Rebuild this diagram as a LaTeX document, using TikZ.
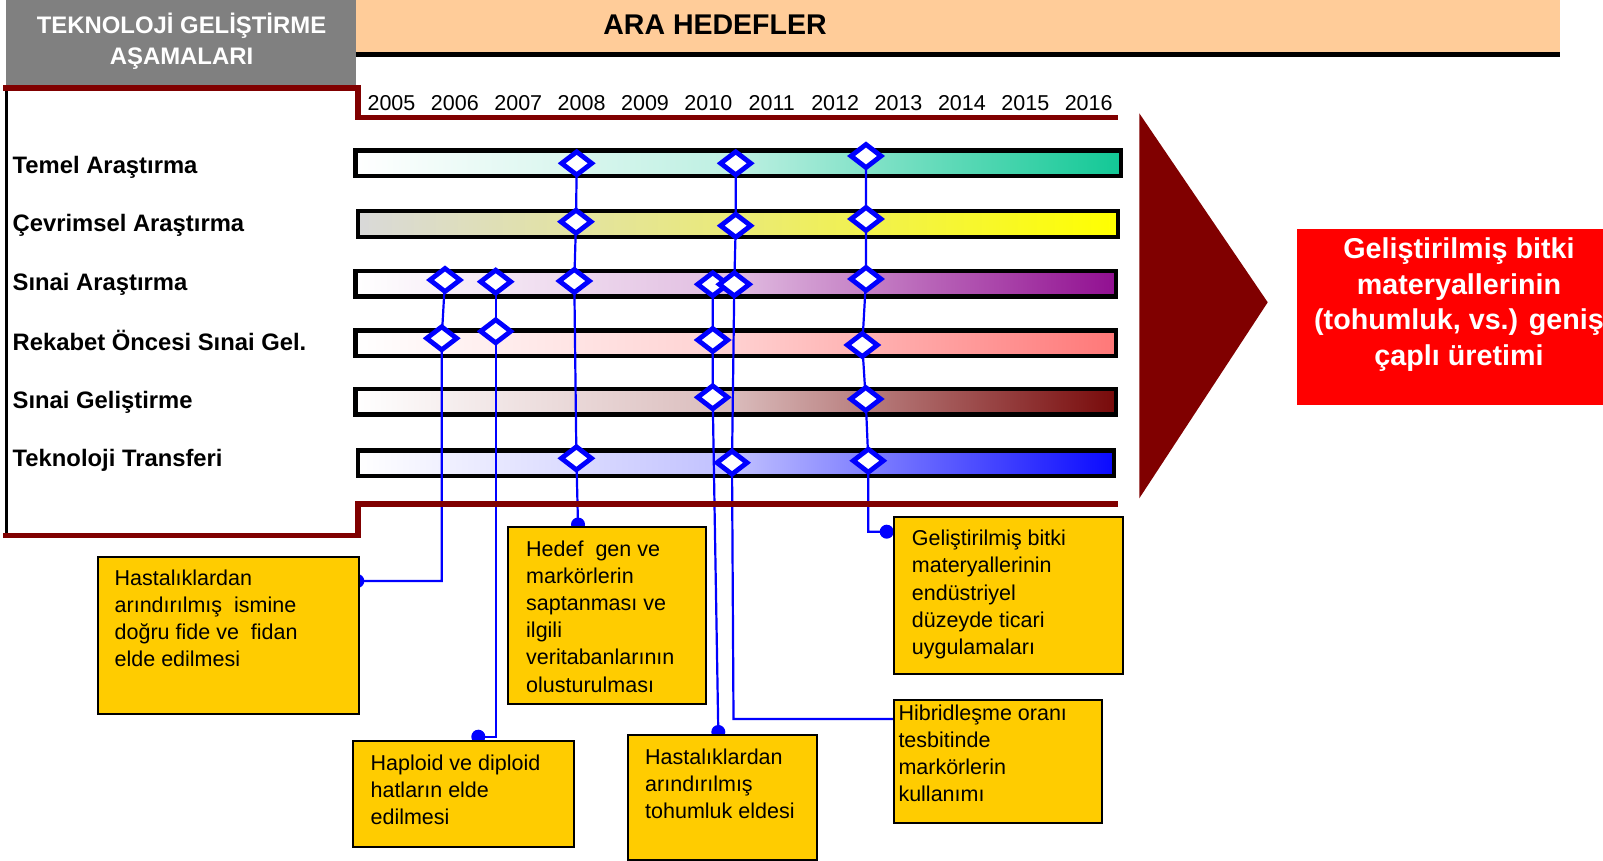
\documentclass[tikz,border=0pt]{standalone}
\usepackage{fontspec}
\setmainfont{Liberation Sans}
\usetikzlibrary{shapes.geometric}

\definecolor{hdrgray}{HTML}{808080}
\definecolor{hdrorange}{HTML}{FFCC99}
\definecolor{maroon}{HTML}{800000}
\definecolor{noteyellow}{HTML}{FFCC00}
\definecolor{msblue}{HTML}{0000FF}
\definecolor{goalred}{HTML}{FF0000}
\definecolor{cTeal}{RGB}{18,200,150}
\definecolor{cYellow}{RGB}{255,255,0}
\definecolor{cGrayL}{RGB}{217,217,217}
\definecolor{cPurple}{RGB}{145,15,145}
\definecolor{cSalmon}{RGB}{255,120,120}
\definecolor{cBrown}{RGB}{120,10,10}
\definecolor{cBlue}{RGB}{10,10,255}

\pgfdeclarelayer{bars}
\pgfdeclarelayer{links}
\pgfsetlayers{bars,links,main}

\begin{document}
\begin{tikzpicture}[x=1pt,y=-1pt,
  phasebar/.style={draw=black,line width=4.5pt,minimum height=25.5pt,inner sep=0pt,left color=white},
  milestone/.style={diamond,draw=msblue,fill=white,line width=4.8pt,minimum width=32pt,minimum height=25pt,inner sep=0pt},
  link/.style={draw=msblue,line width=2.2pt},
  joint/.style={circle,fill=msblue,minimum size=14pt,inner sep=0pt},
  notebox/.style={draw=black,line width=2pt,fill=noteyellow,inner sep=0pt,anchor=north west},
  notetext/.style={anchor=north west,inner sep=0pt,align=left,font=\fontsize{21.5}{27.2}\selectfont,execute at begin node=\rule{0pt}{17pt}},
  phase/.style={anchor=base west,inner sep=0pt,font=\bfseries\fontsize{23.8}{28}\selectfont},
  year/.style={anchor=base,inner sep=0pt,font=\fontsize{21.5}{25}\selectfont},
]
\useasboundingbox (0,0) rectangle (1603,861);
\clip (0,0) rectangle (1603,861);

% header bands
\fill[hdrgray] (6.3,0) rectangle (355.6,85);
\fill[hdrorange] (355.6,0) rectangle (1560,52);
\draw[line width=5.5pt] (355.6,54.5) -- (1560,54.5);
\node[anchor=north,inner sep=0pt,align=center,text=white,
      font=\bfseries\fontsize{23.9}{30.7}\selectfont,
      execute at begin node=\rule{0pt}{23pt}] (phasehdr) at (181.5,13.1)
  {TEKNOLOJİ GELİŞTİRME\\AŞAMALARI};
\node[anchor=base,inner sep=0pt,font=\bfseries\fontsize{28.5}{34}\selectfont] (goalhdr) at (715,34.7) {ARA HEDEFLER};

% frame of the phase panel
\draw[line width=3.5pt] (6.5,88) -- (6.5,535.5);
\draw[maroon,line width=5.7pt,line join=miter] (3,88) -- (358.3,88) -- (358.3,117.5) -- (1117.5,117.5);
\draw[maroon,line width=5.7pt,line join=miter] (3,535.5) -- (358.3,535.5) -- (358.3,504) -- (1117.5,504);

% years
\foreach \yr [count=\i from 0] in {2005,2006,...,2016}
  \node[year] (y\yr) at (391.5+63.38*\i,111) {\yr};

% phase names
\node[phase] (lab1) at (12.5,173.5) {Temel Araştırma};
\node[phase] (lab2) at (12.5,231.8) {Çevrimsel Araştırma};
\node[phase] (lab3) at (12.5,290.2) {Sınai Araştırma};
\node[phase] (lab4) at (12.5,350.2) {Rekabet Öncesi Sınai Gel.};
\node[phase] (lab5) at (12.5,408.5) {Sınai Geliştirme};
\node[phase] (lab6) at (12.5,466.8) {Teknoloji Transferi};

% gradient bars
\begin{pgfonlayer}{bars}
\node[phasebar,minimum width=765.5pt,right color=cTeal,middle color=cTeal!28!white] (bar1) at (738,163.5) {};
\node[phasebar,minimum width=760pt,left color=cGrayL,right color=cYellow,middle color=cGrayL!55!cYellow] (bar2) at (737.75,224) {};
\node[phasebar,minimum width=760.5pt,right color=cPurple,middle color=cPurple!28!white] (bar3) at (735.5,283.5) {};
\node[phasebar,minimum width=760.5pt,right color=cSalmon,middle color=cSalmon!35!white] (bar4) at (735.5,343) {};
\node[phasebar,minimum width=760.5pt,right color=cBrown,middle color=cBrown!28!white] (bar5) at (735.5,401.5) {};
\node[phasebar,minimum width=756pt,right color=cBlue,middle color=cBlue!26!white] (bar6) at (735.75,463) {};
\end{pgfonlayer}

% milestones
\node[milestone] (mA3) at (445,280) {};
\node[milestone] (mA4) at (441.7,338.3) {};
\node[milestone] (mB3) at (495.7,281.7) {};
\node[milestone] (mB4) at (495.7,331.3) {};
\node[milestone] (mC1) at (576.7,163.3) {};
\node[milestone] (mC2) at (576,221.7) {};
\node[milestone] (mC3) at (574.3,281) {};
\node[milestone] (mC6) at (576.4,458.3) {};
\node[milestone] (mD3) at (712.7,284.3) {};
\node[milestone] (mD4) at (712.7,340) {};
\node[milestone] (mD5) at (712.7,397.3) {};
\node[milestone] (mE1) at (735.7,163.3) {};
\node[milestone] (mE2) at (735.7,225.7) {};
\node[milestone] (mE3) at (734.3,284.3) {};
\node[milestone] (mE6) at (732,462.7) {};
\node[milestone] (mF1) at (866,156) {};
\node[milestone] (mF2) at (866,219) {};
\node[milestone] (mF3) at (866,279) {};
\node[milestone] (mF4) at (862.3,345) {};
\node[milestone] (mF5) at (865.7,399) {};
\node[milestone] (mF6) at (868.3,460.7) {};

% note boxes
\node[notebox,minimum width=261pt,minimum height=156.7pt] (box1) at (96.5,556) {};
\node[notebox,minimum width=198pt,minimum height=176.5pt] (box2) at (507,526) {};
\node[notebox,minimum width=228.5pt,minimum height=157pt] (box3) at (893,516) {};
\node[notebox,minimum width=221pt,minimum height=106pt] (box4) at (351.5,740) {};
\node[notebox,minimum width=189.5pt,minimum height=125pt] (box5) at (626.5,734) {};
\node[notebox,minimum width=207.5pt,minimum height=123pt] (box6) at (893,699) {};

\node[notetext] (txt1) at (114.5,569.3) {Hastalıklardan\\arındırılmış\ \ ismine\\doğru fide ve\ \ fidan\\elde edilmesi};
\node[notetext] (txt2) at (526,540.3) {Hedef\ \ gen ve\\markörlerin\\saptanması ve\\ilgili\\veritabanlarının\\olusturulması};
\node[notetext] (txt3) at (911.7,530) {Geliştirilmiş bitki\\materyallerinin\\endüstriyel\\düzeyde ticari\\uygulamaları};
\node[notetext] (txt4) at (370.4,754.3) {Haploid ve diploid\\hatların elde\\edilmesi};
\node[notetext] (txt5) at (645,748.3) {Hastalıklardan\\arındırılmış\\tohumluk eldesi};
\node[notetext] (txt6) at (898.3,704.3) {Hibridleşme oranı\\tesbitinde\\markörlerin\\kullanımı};

% connectors from milestones to notes
\begin{pgfonlayer}{links}
\node[joint] (jA) at (357.3,581) {};
\node[joint] (jB) at (478.3,736.7) {};
\node[joint] (jC) at (578,524.5) {};
\node[joint] (jD) at (718.3,732) {};
\node[joint] (jF) at (886.7,531.7) {};
\coordinate (kE) at (733.5,719);
\draw[link] (mA3.center) -- (mA4.center) -- (mA4.center |- jA.center) -- (jA.center);
\draw[link] (mB3.center) -- (mB4.center) -- (mB4.center |- jB.center) -- (jB.center);
\draw[link] (mC1.center) -- (mC2.center) -- (mC3.center) -- (mC6.center) -- (jC.center);
\draw[link] (mD3.center) -- (mD4.center) -- (mD5.center) -- (jD.center);
\draw[link] (mE1.center) -- (mE2.center) -- (mE3.center) -- (mE6.center) -- (kE) -- (box6.west |- kE);
\draw[link] (mF1.center) -- (mF2.center) -- (mF3.center) -- (mF4.center) -- (mF5.center) -- (mF6.center) -- (mF6.center |- jF.center) -- (jF.center);
\end{pgfonlayer}

% outcome arrow and goal
\fill[maroon] (1139.3,113.3) -- (1139.3,498.3) -- (1267.7,302.3) -- cycle;
\node[fill=goalred,anchor=north west,minimum width=330pt,minimum height=176.7pt,inner sep=0pt] (goal) at (1296.3,228.3) {};
\node[anchor=north,inner sep=0pt,align=center,text=white,
      font=\bfseries\fontsize{28.7}{35.5}\selectfont,
      execute at begin node=\rule{0pt}{22pt}] (goaltxt) at (1459,238)
  {Geliştirilmiş bitki\\materyallerinin\\(tohumluk, vs.) geniş\\çaplı üretimi};
\end{tikzpicture}
\end{document}
